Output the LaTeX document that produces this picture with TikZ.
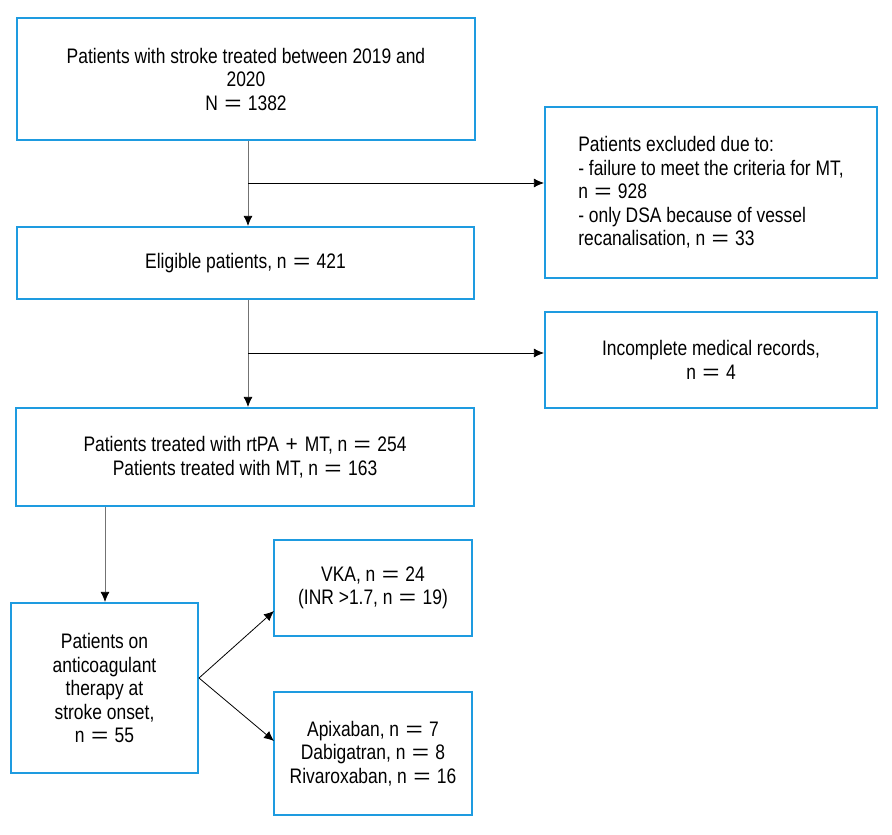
\documentclass[tikz,border=0pt]{standalone}
\usepackage{fontspec}
\usepackage{graphicx}
\setmainfont[FakeStretch=0.83]{Liberation Sans}
\usetikzlibrary{arrows.meta}
\definecolor{boxblue}{HTML}{1E9BE0}
\newcommand{\eqs}{~\kern1.5pt\scalebox{1.7}[1]{=}\kern1.5pt~}
\newcommand{\pls}{~\kern2pt\scalebox{1.2}[1.05]{+}\kern2pt~}
\begin{document}
\begin{tikzpicture}[x=1pt,y=-1pt,
  box/.style={draw=boxblue, line width=2.2pt, align=center, font=\fontsize{21}{23.5}\selectfont, inner sep=0pt},
  arr/.style={-{Latex[length=10pt,width=9pt,color=black]}, line width=0.8pt},
  varr/.style={arr, draw=gray!90!black}]
\useasboundingbox (0,0) rectangle (892,835);
\node[box, minimum width=458, minimum height=122] (a) at (246,79) {Patients with stroke treated between 2019 and\\2020\\N\eqs1382};
\node[box, minimum width=332, minimum height=171, align=left] (x) at (711,192.5) {Patients excluded due to:\\- failure to meet the criteria for MT,\\n\eqs928\\- only DSA because of vessel\\recanalisation, n\eqs33};
\node[box, minimum width=457, minimum height=72] (b) at (245.5,263) {Eligible patients, n\eqs421};
\node[box, minimum width=332, minimum height=96] (y) at (711,360) {Incomplete medical records,\\n\eqs4};
\node[box, minimum width=458, minimum height=98] (c) at (245,457) {Patients treated with rtPA\pls MT, n\eqs254\\Patients treated with MT, n\eqs163};
\node[box, minimum width=187, minimum height=170] (d) at (104.5,688) {Patients on\\anticoagulant\\therapy at\\stroke onset,\\n\eqs55};
\node[box, minimum width=198, minimum height=96] (e) at (373,588) {VKA, n\eqs24\\(INR >1.7, n\eqs19)};
\node[box, minimum width=198, minimum height=123] (f) at (373,753.5) {Apixaban, n\eqs7\\Dabigatran, n\eqs8\\Rivaroxaban, n\eqs16};
\coordinate (a1) at (248,140);
\coordinate (b1) at (248,227);
\coordinate (j1) at (248,183);
\coordinate (b2) at (248,299);
\coordinate (c1) at (248,408);
\coordinate (j2) at (248,353);
\coordinate (c2) at (105,506);
\coordinate (d1) at (105,603);
\coordinate (fan) at (199,678);
\coordinate (e1) at (274,611);
\coordinate (f1) at (274,741);
\draw[varr] (a.south -| a1) -- (b.north -| b1);
\draw[arr] (j1) -- (j1 -| x.west);
\draw[varr] (b.south -| b2) -- (c.north -| c1);
\draw[arr] (j2) -- (j2 -| y.west);
\draw[varr] (c.south -| c2) -- (d.north -| d1);
\draw[arr] (fan) -- (e1);
\draw[arr] (fan) -- (f1);
\end{tikzpicture}
\end{document}
